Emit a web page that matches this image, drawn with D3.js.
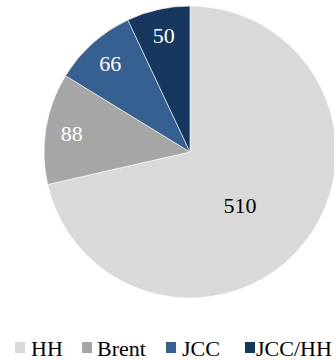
<!DOCTYPE html>
<html>
<head>
<meta charset="utf-8">
<script src="https://cdn.jsdelivr.net/npm/d3@7"></script>
<style>
  body { margin: 0; background: #ffffff; }
  svg text { font-family: "Liberation Serif", serif; }
</style>
</head>
<body>
<svg id="chart" width="334" height="360" font-family="Liberation Serif"></svg>
<script>
// Pricing basis categories and their volumes
const categories = ["HH", "Brent", "JCC", "JCC/HH"];
const values = [510, 88, 66, 50];
const colors = ["#d9d9d9", "#a6a6a6", "#376092", "#17375e"];
const labelColors = ["#000000", "#ffffff", "#ffffff", "#ffffff"];

const cx = 190, cy = 152, radius = 146;

const svg = d3.select("#chart");

const data = categories.map((c, i) => ({ name: c, value: values[i], color: colors[i], labelColor: labelColors[i] }));
const total = d3.sum(values);

const pie = d3.pie().value(d => d.value).sort(null);
const arcs = pie(data);

const arc = d3.arc().innerRadius(0).outerRadius(radius);
// small slices carry their labels near the rim
const rimLabelArc = d3.arc().innerRadius(radius * 0.82).outerRadius(radius * 0.82);
// the dominant slice carries its label towards the centre
const bigLabelArc = d3.arc().innerRadius(radius * 0.49).outerRadius(radius * 0.49);

const g = svg.append("g").attr("transform", `translate(${cx},${cy})`);

g.selectAll("path.slice")
  .data(arcs)
  .join("path")
  .attr("class", "slice")
  .attr("d", arc)
  .attr("fill", d => d.data.color)
  .attr("stroke", "#ffffff")
  .attr("stroke-width", 0.6);

g.selectAll("text.value")
  .data(arcs)
  .join("text")
  .attr("class", "value")
  .attr("transform", d => {
    const big = d.data.value / total > 0.5;
    const [x, y] = big ? bigLabelArc.centroid(d) : rimLabelArc.centroid(d);
    // the dominant label sits a little lower and left of the bisector
    const off = big ? [-6, 8] : [0, 0];
    return `translate(${x + off[0]},${y + off[1]})`;
  })
  .attr("text-anchor", "middle")
  .attr("y", 8)
  .attr("font-family", "Liberation Serif")
  .attr("font-size", 22)
  .attr("fill", d => d.data.labelColor)
  .text(d => d.data.value);

// Legend: swatch and label positions along the bottom row
const swatchX = [15, 82, 166, 245];
const labelX = [31, 97, 182, 256];
const legend = svg.append("g").attr("class", "legend");
const items = legend.selectAll("g.item")
  .data(data)
  .join("g")
  .attr("class", "item");

items.append("rect")
  .attr("x", (d, i) => swatchX[i])
  .attr("y", 342)
  .attr("width", 10)
  .attr("height", 11)
  .attr("fill", d => d.color);

items.append("text")
  .attr("x", (d, i) => labelX[i])
  .attr("y", 356)
  .attr("font-family", "Liberation Serif")
  .attr("font-size", 22)
  .attr("fill", "#000000")
  .text(d => d.name);
</script>
</body>
</html>
